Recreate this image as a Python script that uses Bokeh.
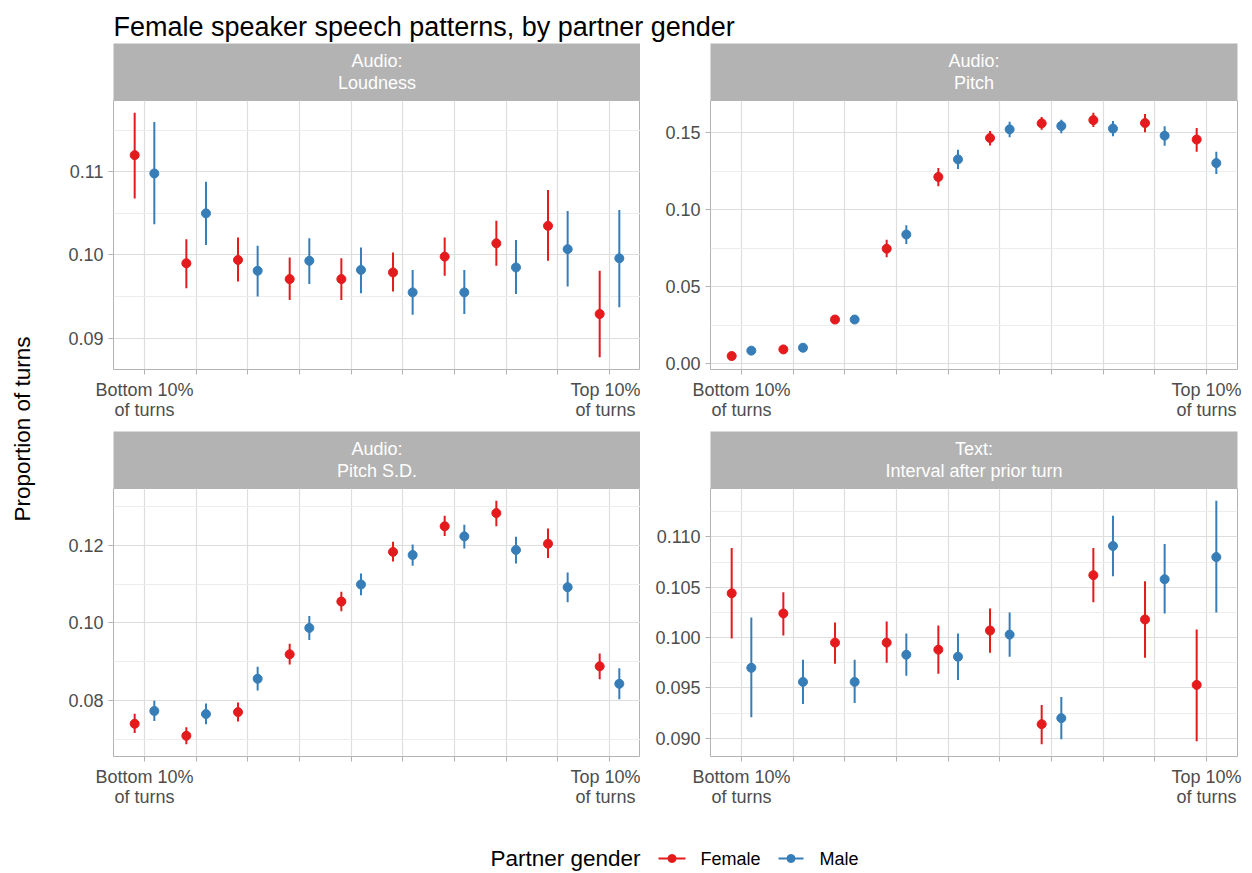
import math
from bokeh.plotting import figure
from bokeh.models import Range1d, FixedTicker, PrintfTickFormatter
from bokeh.layouts import column, row
from bokeh.embed import file_html
from bokeh.resources import INLINE
from bokeh.core.properties import value

FONT = "Liberation Sans"
RED = "#E41A1C"
BLUE = "#377EB8"
GREY70 = "#B3B3B3"

# ---------------- data ----------------
deciles = [1, 2, 3, 4, 5, 6, 7, 8, 9, 10]
x_tick_labels = {1: "Bottom 10%\nof turns", 10: "Top 10%\nof turns"}
series_names = ["Female", "Male"]

# Audio: Loudness
loud_f = [0.1120, 0.0990, 0.0994, 0.0971, 0.0971, 0.0979, 0.0998, 0.1014, 0.1035, 0.0929]
loud_f_lo = [0.1068, 0.0960, 0.0968, 0.0946, 0.0946, 0.0956, 0.0975, 0.0987, 0.0993, 0.0877]
loud_f_hi = [0.1171, 0.1019, 0.1021, 0.0997, 0.0996, 0.1003, 0.1021, 0.1041, 0.1078, 0.0981]
loud_m = [0.1098, 0.1050, 0.0981, 0.0993, 0.0982, 0.0955, 0.0955, 0.0985, 0.1007, 0.0996]
loud_m_lo = [0.1037, 0.1012, 0.0950, 0.0965, 0.0954, 0.0928, 0.0929, 0.0953, 0.0962, 0.0937]
loud_m_hi = [0.1160, 0.1088, 0.1011, 0.1020, 0.1009, 0.0982, 0.0982, 0.1018, 0.1053, 0.1054]
loud_ticks = [0.09, 0.10, 0.11]
loud_minor = [0.085, 0.095, 0.105, 0.115]

# Audio: Pitch
pitch_f = [0.0049, 0.0092, 0.0286, 0.0746, 0.1212, 0.1465, 0.1560, 0.1581, 0.1562, 0.1455]
pitch_f_lo = [0.0041, 0.0083, 0.0262, 0.0690, 0.1152, 0.1416, 0.1519, 0.1536, 0.1502, 0.1375]
pitch_f_hi = [0.0057, 0.0101, 0.0307, 0.0804, 0.1270, 0.1511, 0.1601, 0.1629, 0.1620, 0.1530]
pitch_m = [0.0084, 0.0103, 0.0286, 0.0838, 0.1326, 0.1521, 0.1543, 0.1526, 0.1480, 0.1302]
pitch_m_lo = [0.0076, 0.0094, 0.0274, 0.0776, 0.1263, 0.1470, 0.1495, 0.1476, 0.1414, 0.1231]
pitch_m_hi = [0.0092, 0.0112, 0.0298, 0.0898, 0.1388, 0.1571, 0.1584, 0.1575, 0.1541, 0.1375]
pitch_ticks = [0.00, 0.05, 0.10, 0.15]
pitch_minor = [0.025, 0.075, 0.125]

# Audio: Pitch S.D.
psd_f = [0.0740, 0.0709, 0.0770, 0.0919, 0.1055, 0.1183, 0.1249, 0.1283, 0.1204, 0.0888]
psd_f_lo = [0.0716, 0.0687, 0.0746, 0.0893, 0.1030, 0.1158, 0.1224, 0.1249, 0.1167, 0.0855]
psd_f_hi = [0.0766, 0.0731, 0.0795, 0.0946, 0.1080, 0.1209, 0.1276, 0.1315, 0.1243, 0.0921]
psd_m = [0.0773, 0.0765, 0.0856, 0.0987, 0.1099, 0.1175, 0.1223, 0.1188, 0.1092, 0.0843]
psd_m_lo = [0.0747, 0.0739, 0.0826, 0.0956, 0.1071, 0.1147, 0.1192, 0.1153, 0.1053, 0.0803]
psd_m_hi = [0.0799, 0.0792, 0.0887, 0.1018, 0.1127, 0.1202, 0.1253, 0.1222, 0.1130, 0.0883]
psd_ticks = [0.08, 0.10, 0.12]
psd_minor = [0.07, 0.09, 0.11, 0.13]

# Text: Interval after prior turn
int_f = [0.1044, 0.1024, 0.0995, 0.0995, 0.0988, 0.1007, 0.0914, 0.1062, 0.1018, 0.0953]
int_f_lo = [0.0999, 0.1002, 0.0974, 0.0975, 0.0964, 0.0985, 0.0894, 0.1035, 0.0980, 0.0897]
int_f_hi = [0.1089, 0.1045, 0.1015, 0.1016, 0.1012, 0.1029, 0.0933, 0.1089, 0.1056, 0.1008]
int_m = [0.0970, 0.0956, 0.0956, 0.0983, 0.0981, 0.1003, 0.0920, 0.1091, 0.1058, 0.1080]
int_m_lo = [0.0921, 0.0934, 0.0935, 0.0962, 0.0958, 0.0981, 0.0899, 0.1061, 0.1024, 0.1025]
int_m_hi = [0.1020, 0.0978, 0.0978, 0.1004, 0.1004, 0.1025, 0.0941, 0.1121, 0.1093, 0.1136]
int_ticks = [0.090, 0.095, 0.100, 0.105, 0.110]
int_minor = [0.0875, 0.0925, 0.0975, 0.1025, 0.1075, 0.1125]

panels = [
    dict(strip="Audio:\nLoudness", f=loud_f, f_lo=loud_f_lo, f_hi=loud_f_hi,
         m=loud_m, m_lo=loud_m_lo, m_hi=loud_m_hi, ticks=loud_ticks, minor=loud_minor, fmt="%.2f"),
    dict(strip="Audio:\nPitch", f=pitch_f, f_lo=pitch_f_lo, f_hi=pitch_f_hi,
         m=pitch_m, m_lo=pitch_m_lo, m_hi=pitch_m_hi, ticks=pitch_ticks, minor=pitch_minor, fmt="%.2f"),
    dict(strip="Audio:\nPitch S.D.", f=psd_f, f_lo=psd_f_lo, f_hi=psd_f_hi,
         m=psd_m, m_lo=psd_m_lo, m_hi=psd_m_hi, ticks=psd_ticks, minor=psd_minor, fmt="%.2f"),
    dict(strip="Text:\nInterval after prior turn", f=int_f, f_lo=int_f_lo, f_hi=int_f_hi,
         m=int_m, m_lo=int_m_lo, m_hi=int_m_hi, ticks=int_ticks, minor=int_minor, fmt="%.3f"),
]

DODGE = 0.19


def bare(width, height, xr, yr, left=0, right=0, bg="white"):
    f = figure(width=width, height=height, x_range=xr, y_range=yr,
               x_axis_location=None, y_axis_location=None,
               toolbar_location=None, output_backend="svg",
               min_border_left=left, min_border_right=right,
               min_border_top=0, min_border_bottom=0)
    f.grid.visible = False
    f.outline_line_color = None
    f.background_fill_color = bg
    f.border_fill_color = "white"
    return f


def make_strip(text, width, left, right):
    s = bare(width, 57, Range1d(0, 1), Range1d(0, 1), left=left, right=right, bg=GREY70)
    s.text(x=[0.5], y=[0.5], text=[text], text_align="center", text_baseline="middle",
           text_color="white", text_font=value(FONT), text_font_size="18px",
           text_line_height=1.12)
    return s


def make_panel(spec, width, height, left, right, bottom):
    lo = min(spec["f_lo"] + spec["m_lo"])
    hi = max(spec["f_hi"] + spec["m_hi"])
    pad = 0.05 * (hi - lo)
    p = figure(width=width, height=height, x_range=Range1d(0.4, 10.6),
               y_range=Range1d(lo - pad, hi + pad),
               min_border_left=left, min_border_right=right,
               min_border_top=0, min_border_bottom=bottom,
               toolbar_location=None, output_backend="svg")
    p.background_fill_color = "white"
    p.border_fill_color = "white"
    p.outline_line_color = GREY70
    p.outline_line_width = 1

    xf = [d - DODGE for d in deciles]
    xm = [d + DODGE for d in deciles]
    p.segment(xf, spec["f_lo"], xf, spec["f_hi"], line_color=RED, line_width=2)
    p.scatter(xf, spec["f"], size=9, fill_color=RED, line_color=RED)
    p.segment(xm, spec["m_lo"], xm, spec["m_hi"], line_color=BLUE, line_width=2)
    p.scatter(xm, spec["m"], size=9, fill_color=BLUE, line_color=BLUE)

    p.xaxis.ticker = FixedTicker(ticks=deciles, minor_ticks=[])
    p.xaxis.major_label_overrides = {d: x_tick_labels.get(d, "") for d in deciles}
    p.yaxis.ticker = FixedTicker(ticks=spec["ticks"], minor_ticks=spec["minor"])
    p.yaxis.formatter = PrintfTickFormatter(format=spec["fmt"])

    for ax in p.axis:
        ax.axis_line_color = None
        ax.major_tick_line_color = GREY70
        ax.major_tick_line_width = 1
        ax.major_tick_out = 5
        ax.major_tick_in = 0
        ax.minor_tick_line_color = None
        ax.major_label_text_font = FONT
        ax.major_label_text_font_size = "18px"
        ax.major_label_text_color = "#4D4D4D"
        ax.major_label_standoff = 5
        ax.major_label_text_line_height = 1.0

    p.xgrid.grid_line_color = "#DEDEDE"
    p.xgrid.grid_line_width = 1.2
    p.ygrid.grid_line_color = "#DEDEDE"
    p.ygrid.grid_line_width = 1.2
    p.ygrid.minor_grid_line_color = "#EDEDED"
    p.ygrid.minor_grid_line_width = 1
    return p


# ---------------- layout (image px) ----------------
W = 1252
LEFT_W, RIGHT_W = 592, 612
LEFT_B, RIGHT_B, RIGHT_R = 65, 70, 15

title_fig = bare(W, 43, Range1d(0, W), Range1d(-43, 0))
title_fig.text(x=[113], y=[-26], text=["Female speaker speech patterns, by partner gender"],
               text_align="left", text_baseline="alphabetic", text_color="black",
               text_font=value(FONT), text_font_size="27px")

ylab_fig = bare(48, 766, Range1d(0, 48), Range1d(-809, -43))
ylab_fig.text(x=[22], y=[-428.5], text=["Proportion of turns"], angle=math.pi / 2,
              text_align="center", text_baseline="middle", text_color="black",
              text_font=value(FONT), text_font_size="22.5px")

strip_tl = make_strip(panels[0]["strip"], LEFT_W, LEFT_B, 0)
strip_tr = make_strip(panels[1]["strip"], RIGHT_W, RIGHT_B, RIGHT_R)
strip_bl = make_strip(panels[2]["strip"], LEFT_W, LEFT_B, 0)
strip_br = make_strip(panels[3]["strip"], RIGHT_W, RIGHT_B, RIGHT_R)

p_tl = make_panel(panels[0], LEFT_W, 331, LEFT_B, 0, 62)
p_tr = make_panel(panels[1], RIGHT_W, 331, RIGHT_B, RIGHT_R, 62)
p_bl = make_panel(panels[2], LEFT_W, 321, LEFT_B, 0, 52)
p_br = make_panel(panels[3], RIGHT_W, 321, RIGHT_B, RIGHT_R, 52)

legend_fig = bare(W, 64, Range1d(0, W), Range1d(-873, -809))
ly = -858
legend_fig.text(x=[490], y=[ly], text=["Partner gender"], text_align="left",
                text_baseline="middle", text_color="black",
                text_font=value(FONT), text_font_size="22.5px")
for (x0, x1, tx), name, col in zip([(658, 685, 700), (778, 803, 819)], series_names, [RED, BLUE]):
    legend_fig.segment([x0], [ly], [x1], [ly], line_color=col, line_width=2)
    legend_fig.scatter([(x0 + x1) / 2], [ly], size=8, fill_color=col, line_color=col)
    legend_fig.text(x=[tx], y=[ly], text=[name], text_align="left", text_baseline="middle",
                    text_color="black", text_font=value(FONT), text_font_size="18px")

grid = column(
    row(strip_tl, strip_tr),
    row(p_tl, p_tr),
    row(strip_bl, strip_br),
    row(p_bl, p_br),
)
root = column(title_fig, row(ylab_fig, grid), legend_fig)

open("out.html", "w").write(file_html(root, INLINE))
